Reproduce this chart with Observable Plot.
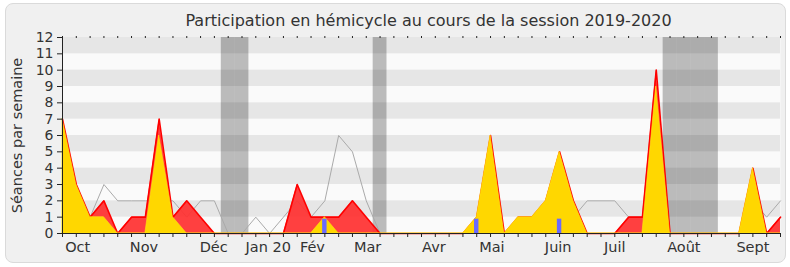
<!DOCTYPE html>
<html><head><meta charset="utf-8">
<script src="https://cdn.jsdelivr.net/npm/d3@7"></script>
<script src="https://cdn.jsdelivr.net/npm/@observablehq/plot@0.6"></script>
<style>
html,body{margin:0;padding:0;background:#fff;}
#frame{position:absolute;left:5px;top:3px;width:779px;height:258px;border:1px solid #dadada;border-radius:8px;background:#f0f0f0;}
#chart{position:absolute;left:0;top:0;}
</style></head><body>
<div id="frame"></div><div id="chart"></div>
<script>
// weekly data, session 2019-2020 (week index 0 = end of Sept 2019)
const weeks = d3.range(53);
const presences     = [7,3,1,2,0,1,1,7,1,2, 1,0,0,0,0,0,0,3,1,1, 1,2,1,0,0,0,0,0,0,0, 1,6,0,1,1,2,5,2,0,0, 0,1,1,10,0,0,0,0,0,0, 4,0,1];
const interventions = [7,3,1,1,0,0,0,6,1,0, 0,0,0,0,0,0,0,0,0,1, 0,0,0,0,0,0,0,0,0,0, 1,6,0,1,1,2,5,2,0,0, 0,0,0,9,0,0,0,0,0,0, 4,0,0];
const mediane       = [2,2,1,3,2,2,2,2,2,1, 2,2,0,0,1,0,1,2,1,2, 6,5,2,0,0,0,0,0,0,0, 0,1,0,0,0,0,1,1,2,2, 2,1,1,3,0,0,0,0,0,0, 2,1,2];
const questionWeeks = [19,30,36];
const questionVals  = [1,1,1];
const vacances = [12,13,23,44,45,46,47];
const monthLabels = ["Oct","Nov","Déc","Jan 20","Fév","Mar","Avr","Mai","Juin","Juil","Août","Sept"];
const monthPos    = [1.1,5.9,10.95,14.9,18.1,22.1,26.9,31.1,35.9,40,45,50];
const yTicks = d3.range(0,13);
const darkBands = [1,3,5,7,9,11];

const rows = weeks.map((w,i)=>({w, p: presences[i], it: interventions[i], m: mediane[i]}));
const questions = questionWeeks.map((w,i)=>({w, v: questionVals[i]}));
const labelByPos = new Map(monthPos.map((p,i)=>[p, monthLabels[i]]));
const x0 = weeks[0], x1 = weeks[weeks.length-1];

const chart = Plot.plot({
  width: 790, height: 267,
  marginLeft: 62, marginRight: 10, marginTop: 37, marginBottom: 34,
  style: {background: "transparent", fontFamily: "DejaVu Sans", fontSize: "14px", color: "#333"},
  x: {domain: [x0, x1]},
  y: {domain: [0, 12]},
  marks: [
    Plot.frame({fill: "#fafafa", stroke: null}),
    Plot.rect(darkBands, {x1: () => x0, x2: () => x1, y1: d => d, y2: d => d + 1, fill: "#e6e6e6"}),
    Plot.rect(vacances, {x1: d => d - 0.5, x2: d => d + 0.5, fill: "#000", fillOpacity: 0.25}),
    Plot.lineY(rows, {x: "w", y: "m", stroke: "#aaaaaa", strokeWidth: 1}),
    Plot.areaY(rows, {x: "w", y: "p", fill: "#ff3030", fillOpacity: 0.92}),
    Plot.lineY(rows, {x: "w", y: "p", stroke: "#ff0000", strokeWidth: 1.6}),
    Plot.areaY(rows, {x: "w", y: "it", fill: "#ffd700", stroke: "#ffe810", strokeWidth: 0.6}),
    Plot.rectY(questions, {x1: d => d.w - 0.16, x2: d => d.w + 0.16, y: "v", fill: "#6a6aff", insetTop: 2}),
    Plot.ruleY([0], {stroke: "#222", strokeWidth: 1}),
    Plot.ruleX([x0], {stroke: "#222", strokeWidth: 1}),
    Plot.axisY({ticks: yTicks, tickSize: 5, tickPadding: 4, label: null, fontSize: 14, stroke: "#222"}),
    Plot.axisX({ticks: weeks, tickSize: 4, tickFormat: () => "", label: null, stroke: "#222"}),
    Plot.axisX({anchor: "top", ticks: weeks, tickSize: 2, tickFormat: () => "", label: null, stroke: "#222"}),
    Plot.axisX({ticks: monthPos, tickSize: 0, tickPadding: 8, tickFormat: d => labelByPos.get(d), label: null, fontSize: 14.5}),
    Plot.text(["Participation en hémicycle au cours de la session 2019-2020"], {frameAnchor: "top", lineAnchor: "middle", dx: 7, dy: -17, fontSize: 16, fill: "#333"}),
    Plot.text(["Séances par semaine"], {frameAnchor: "left", textAnchor: "middle", lineAnchor: "middle", dx: -45, rotate: -90, fontSize: 14.5, fill: "#333"})
  ]
});
document.getElementById("chart").appendChild(chart);
</script>
</body></html>
